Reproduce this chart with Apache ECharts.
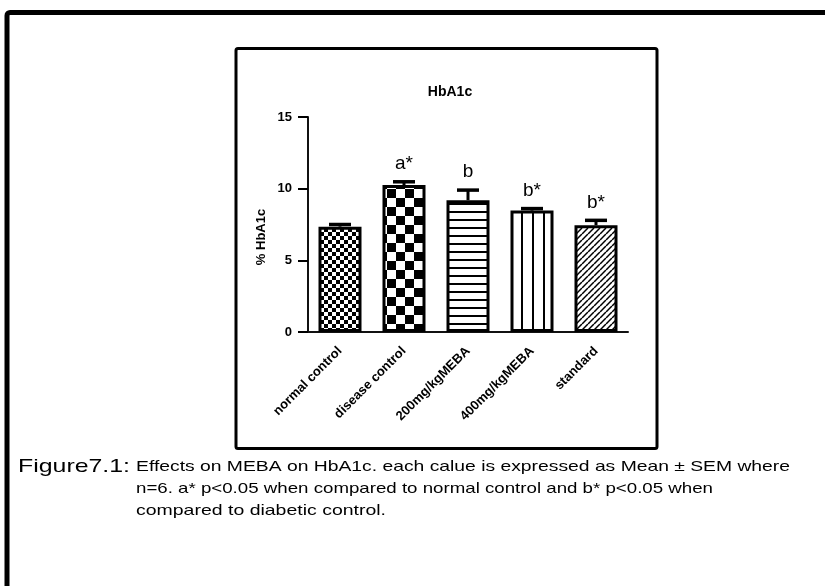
<!DOCTYPE html>
<html>
<head>
<meta charset="utf-8">
<script src="https://cdn.jsdelivr.net/npm/echarts@6/dist/echarts.min.js"></script>
<style>
  html, body { margin: 0; padding: 0; background: #fff; }
  #chart { width: 825px; height: 586px; }
</style>
</head>
<body>
<div id="chart"></div>
<script>
// HbA1c per treatment group (mean ± SEM, n = 6)
const categories = ['normal control', 'disease control', '200mg/kgMEBA', '400mg/kgMEBA', 'standard'];
const meanValues = [7.35, 10.25, 9.2, 8.47, 7.45];
const semValues = [0.15, 0.23, 0.7, 0.14, 0.34];
const sigLabels = ['', 'a*', 'b', 'b*', 'b*'];
const yMin = 0, yMax = 15, yStep = 5;

const captionHead = 'Figure7.1:';
const captionLines = [
  'Effects on MEBA on HbA1c. each calue is expressed as Mean \u00b1 SEM where',
  'n=6. a* p<0.05 when compared to normal control and b* p<0.05 when',
  'compared to diabetic control.'
];

// ---- fill patterns for the bars ----
function tile(w, h, draw) {
  const c = document.createElement('canvas');
  c.width = w; c.height = h;
  const g = c.getContext('2d');
  g.fillStyle = '#fff'; g.fillRect(0, 0, w, h);
  g.fillStyle = '#000'; g.strokeStyle = '#000';
  draw(g, w, h);
  return c;
}
const patterns = [
  // fine checkerboard
  tile(8, 8, g => { g.fillRect(0, 0, 4, 4); g.fillRect(4, 4, 4, 4); }),
  // coarse checkerboard
  tile(18, 18, g => { g.fillRect(0, 0, 9, 9); g.fillRect(9, 9, 9, 9); }),
  // horizontal rules
  tile(8, 8, g => { g.fillRect(0, 3, 8, 2); }),
  // vertical rules
  tile(11, 11, g => { g.fillRect(4, 0, 2, 11); }),
  // diagonal hatching
  tile(6, 6, (g, w, h) => {
    g.lineWidth = 1.5;
    for (const k of [-6, 0, 6]) {
      g.beginPath(); g.moveTo(k, h); g.lineTo(k + w, 0); g.stroke();
    }
  })
];

// ---- caption text fitted to its column width ----
const measureCtx = document.createElement('canvas').getContext('2d');
function fitScale(text, font, width) {
  measureCtx.font = font;
  return width / measureCtx.measureText(text).width;
}
const headFont = '19px "Liberation Sans", Arial, sans-serif';
const bodyFont = '15px "Liberation Sans", Arial, sans-serif';
const lineWidths = [654, 577, 250];
const lineCenters = [467, 489, 511];

const graphics = [
  { type: 'rect', z: 10, shape: { x: 7, y: 12.5, width: 900, height: 700, r: 3 },
    style: { fill: 'none', stroke: '#000', lineWidth: 5 } },
  { type: 'rect', z: 10, shape: { x: 236, y: 48.5, width: 421, height: 400, r: 2 },
    style: { fill: 'none', stroke: '#000', lineWidth: 3 } },
  { type: 'text', z: 10, x: 450, y: 92,
    style: { text: 'HbA1c', font: 'bold 14px Arial, "Liberation Sans", sans-serif',
             fill: '#000', align: 'center', verticalAlign: 'middle' } },
  { type: 'text', z: 10, x: 261, y: 237, rotation: Math.PI / 2,
    style: { text: '% HbA1c', font: 'bold 13px Arial, "Liberation Sans", sans-serif',
             fill: '#000', align: 'center', verticalAlign: 'middle' } },
  { type: 'text', z: 10, x: 18, y: lineCenters[0], scaleX: fitScale(captionHead, headFont, 112),
    style: { text: captionHead, font: headFont, fill: '#000', align: 'left', verticalAlign: 'middle' } }
];
captionLines.forEach((t, i) => {
  graphics.push({
    type: 'text', z: 10, x: 136, y: lineCenters[i], scaleX: fitScale(t, bodyFont, lineWidths[i]),
    style: { text: t, font: bodyFont, fill: '#000', align: 'left', verticalAlign: 'middle' }
  });
});

const chart = echarts.init(document.getElementById('chart'), null, { renderer: 'canvas' });
chart.setOption({
  animation: false,
  backgroundColor: '#fff',
  grid: { left: 308, top: 117, width: 320, height: 215, containLabel: false },
  xAxis: {
    type: 'category',
    data: categories,
    axisLine: { lineStyle: { color: '#111', width: 2 } },
    axisTick: { alignWithLabel: true, length: 10, lineStyle: { color: '#000', width: 2 } },
    axisLabel: {
      rotate: 45, margin: 17, color: '#000', fontWeight: 'bold', fontSize: 13,
      fontFamily: 'Arial, "Liberation Sans", sans-serif', interval: 0
    }
  },
  yAxis: {
    type: 'value',
    min: yMin, max: yMax, interval: yStep,
    splitLine: { show: false },
    axisLine: { show: true, lineStyle: { color: '#111', width: 2 } },
    axisTick: { show: true, length: 10, lineStyle: { color: '#000', width: 2 } },
    axisLabel: {
      margin: 16, color: '#000', fontWeight: 'bold', fontSize: 13,
      fontFamily: 'Arial, "Liberation Sans", sans-serif'
    }
  },
  series: [
    {
      type: 'bar',
      barWidth: 43,
      z: 2,
      data: meanValues.map((v, i) => ({
        value: v,
        itemStyle: { color: { image: patterns[i], repeat: 'repeat' }, borderColor: '#000', borderWidth: 3 }
      }))
    },
    {
      type: 'custom',
      z: 5,
      data: meanValues.map((m, i) => [i, m, semValues[i]]),
      renderItem(params, api) {
        const i = api.value(0), m = api.value(1), s = api.value(2);
        const base = api.coord([i, m]);
        const top = api.coord([i, m + s]);
        const half = 11;
        const children = [
          { type: 'line', shape: { x1: base[0], y1: base[1], x2: top[0], y2: top[1] },
            style: { stroke: '#000', lineWidth: 3 } },
          { type: 'line', shape: { x1: top[0] - half, y1: top[1], x2: top[0] + half, y2: top[1] },
            style: { stroke: '#000', lineWidth: 3.5 } }
        ];
        const lbl = sigLabels[params.dataIndex];
        if (lbl) {
          children.push({ type: 'text', x: top[0], y: top[1] - 18,
            style: { text: lbl, font: '19px Arial, "Liberation Sans", sans-serif', fill: '#000',
                     align: 'center', verticalAlign: 'middle' } });
        }
        return { type: 'group', children };
      }
    }
  ],
  graphic: graphics
});
</script>
</body>
</html>
